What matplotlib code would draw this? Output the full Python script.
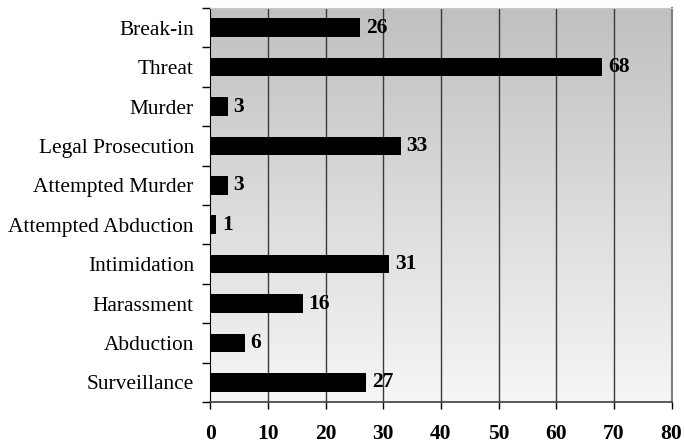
import numpy as np
import matplotlib
matplotlib.use("Agg")
import matplotlib.pyplot as plt
from matplotlib.colors import LinearSegmentedColormap

categories = ["Break-in", "Threat", "Murder", "Legal Prosecution", "Attempted Murder",
              "Attempted Abduction", "Intimidation", "Harassment", "Abduction", "Surveillance"]
values = [26, 68, 3, 33, 3, 1, 31, 16, 6, 27]
x_ticks = [0, 10, 20, 30, 40, 50, 60, 70, 80]

plt.rcParams["font.family"] = ["Liberation Serif", "DejaVu Serif"]

W, H = 684, 447
fig = plt.figure(figsize=(W / 100, H / 100), dpi=100)
left, right, top, bottom = 210.5, 671.5, 8, 402
ax = fig.add_axes([left / W, (H - bottom) / H, (right - left) / W, (bottom - top) / H])

n = len(categories)
ax.set_xlim(0, 80)
ax.set_ylim(n - 0.5, -0.5)

# vertical gradient background: grey at top fading to near white
grad = np.linspace(0, 1, 256).reshape(-1, 1)
cmap = LinearSegmentedColormap.from_list("bg", ["#c0c0c0", "#f6f6f6"])
ax.imshow(grad, aspect="auto", cmap=cmap, extent=[0, 80, n - 0.5, -0.5],
          zorder=0, interpolation="bilinear")

# vertical gridlines
for xv in x_ticks[1:-1]:
    ax.axvline(xv, color="#3a3a3a", lw=1.0, zorder=1)

y = np.arange(n)
ax.barh(y, values, height=0.47, color="black", zorder=3)

for yi, v in zip(y, values):
    ax.annotate(str(v), (v, yi), xytext=(4, 0), textcoords="offset points",
                ha="left", va="center", fontsize=15.5, fontweight="bold", zorder=4)

# frame
ax.spines["top"].set_color("#c8c8c8")
ax.spines["right"].set_color("#808080")
ax.spines["right"].set_linewidth(1.5)
ax.spines["left"].set_color("black")
ax.spines["bottom"].set_color("#404040")
ax.spines["bottom"].set_linewidth(1.2)

ax.set_xticks(x_ticks)
ax.set_xticklabels([str(t) for t in x_ticks], fontsize=15.5, fontweight="bold")
ax.tick_params(axis="x", direction="out", length=5, width=1, color="black", pad=11)

# category boundary ticks on the left, labels at category centres
ax.set_yticks(np.arange(-0.5, n, 1.0))
ax.set_yticklabels([])
ax.tick_params(axis="y", which="major", direction="out", length=6, width=1, color="black")
ax.set_yticks(y, minor=True)
ax.set_yticklabels(categories, minor=True, fontsize=15.4)
ax.tick_params(axis="y", which="minor", length=0, pad=12)

fig.savefig("out.png", dpi=100, facecolor="white")
